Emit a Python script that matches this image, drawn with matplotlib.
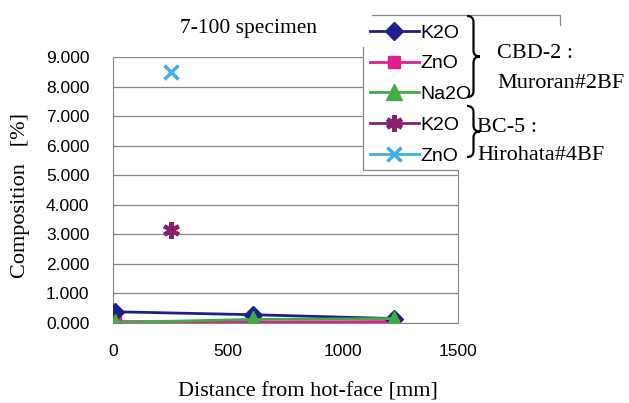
import numpy as np
import matplotlib.pyplot as plt
from matplotlib.path import Path
from matplotlib.patches import PathPatch, Rectangle
from matplotlib.lines import Line2D

# CBD-2 : Muroran#2BF
dist_cbd = [10, 610, 1220]
k2o_cbd = [0.38, 0.28, 0.15]
zno_cbd = [0.05, 0.03, 0.05]
na2o_cbd = [0.02, 0.12, 0.15]

# BC-5 : Hirohata#4BF
dist_bc = [250]
k2o_bc = [3.15]
zno_bc = [8.50]

xticks = [0, 500, 1000, 1500]
yticks = np.arange(0, 10, 1)

serif = 'Liberation Serif'
sans = 'Liberation Sans'
W, H = 629, 403


def fx(x):
    return x / W


def fy(y):
    return 1 - y / H


fig = plt.figure(figsize=(6.29, 4.03), dpi=100)
ax = fig.add_axes([fx(113), fy(323), 345 / W, 266 / H])

ax.plot(dist_cbd, k2o_cbd, color='#1f1f8c', marker='D', ms=9, lw=2, zorder=4)
ax.plot(dist_cbd, zno_cbd, color='#e0208a', marker='s', ms=9, lw=2, zorder=3)
ax.plot(dist_cbd, na2o_cbd, color='#44aa44', marker='^', ms=11, lw=2, zorder=5)
ax.plot(dist_bc, k2o_bc, color='#8a1f6e', marker=(6, 2, 0), ms=12, mew=3, ls='none', zorder=4)
ax.plot(dist_bc, zno_bc, color='#3fb0e0', marker='x', ms=10, mew=2.5, ls='none', zorder=4)

ax.set_xlim(0, 1500)
ax.set_ylim(0, 9)
ax.set_xticks(xticks)
ax.set_yticks(yticks)
ax.set_yticklabels([f'{v:.3f}' for v in yticks], fontfamily=sans, fontsize=12.5)
ax.set_xticklabels([str(v) for v in xticks], fontfamily=sans, fontsize=12.5)
ax.tick_params(length=0)
ax.tick_params(axis='y', pad=17)
ax.tick_params(axis='x', pad=15)
ax.grid(axis='y', color='#888888', lw=0.9)
for s in ['left', 'right', 'bottom']:
    ax.spines[s].set_color('#888888')
ax.spines['top'].set_visible(False)

# white legend area with partial frame, as in the scanned chart
fig.add_artist(Rectangle((fx(363), fy(170)), 97 / W, 155 / H, transform=fig.transFigure,
                         facecolor='white', edgecolor='none', zorder=3))
frame = dict(color='#888888', lw=0.9, transform=fig.transFigure, zorder=4)
fig.add_artist(Line2D([fx(363), fx(363), fx(458)], [fy(47), fy(170), fy(170)], **frame))
fig.add_artist(Line2D([fx(372), fx(560), fx(560)], [fy(15), fy(15), fy(25)], **frame))

handles = [
    Line2D([], [], color='#1f1f8c', marker='D', ms=9, lw=2),
    Line2D([], [], color='#e0208a', marker='s', ms=9, lw=2),
    Line2D([], [], color='#44aa44', marker='^', ms=11, lw=2),
    Line2D([], [], color='#8a1f6e', marker=(6, 2, 0), ms=12, mew=3, lw=2),
    Line2D([], [], color='#3fb0e0', marker='x', ms=10, mew=2.5, lw=2),
]
labels = ['K2O', 'ZnO', 'Na2O', 'K2O', 'ZnO']
leg = fig.legend(handles, labels, loc='upper left', bbox_to_anchor=(fx(366), fy(20)),
                 frameon=False, prop={'family': sans, 'size': 14}, handlelength=2.5,
                 handletextpad=0.1, labelspacing=0.68, borderpad=0.2, borderaxespad=0)
leg.set_zorder(5)


def brace(x0, ytop, ybot, w):
    # curly brace in figure pixel coords, pointing right
    ymid = (ytop + ybot) / 2
    r = 6
    pts = [(x0, ytop), (x0 + w / 2, ytop), (x0 + w / 2, ytop + r),
           (x0 + w / 2, ymid - r), (x0 + w / 2, ymid), (x0 + w, ymid),
           (x0 + w / 2, ymid), (x0 + w / 2, ymid + r),
           (x0 + w / 2, ybot - r), (x0 + w / 2, ybot), (x0, ybot)]
    codes = [Path.MOVETO, Path.CURVE3, Path.CURVE3, Path.LINETO,
             Path.CURVE3, Path.CURVE3, Path.CURVE3, Path.CURVE3,
             Path.LINETO, Path.CURVE3, Path.CURVE3]
    verts = [(fx(x), fy(y)) for x, y in pts]
    fig.add_artist(PathPatch(Path(verts, codes), fill=False, lw=1.6, color='black',
                             transform=fig.transFigure, zorder=6))


brace(467, 16, 97, 13)
brace(467, 106, 157, 13)

txt = dict(fontfamily=serif, fontsize=16, va='center', zorder=6)
fig.text(fx(497), fy(53), 'CBD-2 :', **txt)
fig.text(fx(497), fy(84), 'Muroran#2BF', **txt)
fig.text(fx(477), fy(127), 'BC-5 :', **txt)
fig.text(fx(477), fy(156), 'Hirohata#4BF', **txt)

fig.text(fx(248), fy(28), '7-100 specimen', fontfamily=serif, fontsize=15.5,
         ha='center', va='center')
fig.text(fx(21), fy(196), 'Composition   [%]', fontfamily=serif, fontsize=16,
         rotation=90, ha='center', va='center')
fig.text(fx(308), fy(382), 'Distance from hot-face [mm]', fontfamily=serif,
         fontsize=16, ha='center', va='top')

fig.savefig('out.png', dpi=100)
